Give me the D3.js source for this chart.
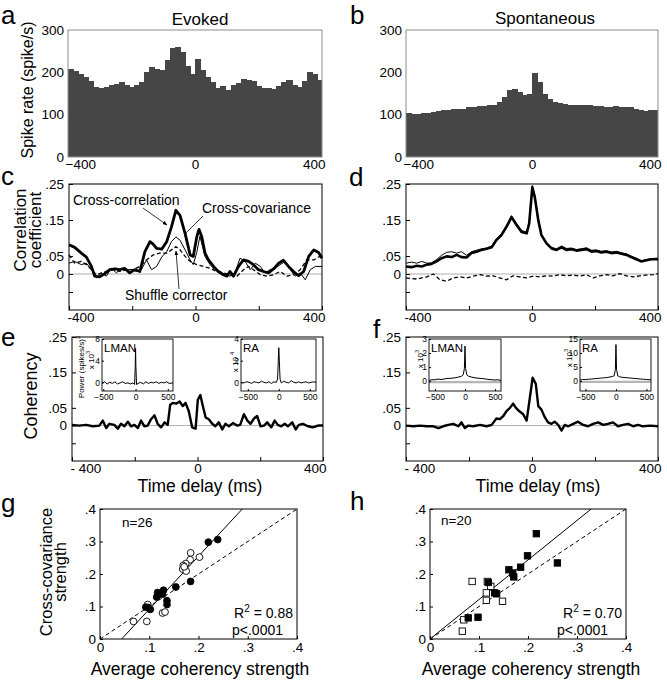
<!DOCTYPE html>
<html><head><meta charset="utf-8">
<script src="https://cdn.jsdelivr.net/npm/d3@7"></script>
<style>
body{margin:0;background:#fff}
svg{display:block}
</style>
</head><body>
<svg id="fig" width="667" height="683"></svg>
<script>
// ---------------- DATA ----------------
// a, b: spike-rate histograms, 50 bins of 16 ms from -400 to 400 ms
const histBinWidth = 16;
const histBinStarts = d3.range(-400, 400, histBinWidth);
const rateEvoked = [209,203,196,190,180,165,164,166,169,173,176,170,166,170,178,200,213,208,205,230,
  258,260,248,215,195,232,205,190,178,163,168,158,170,174,185,183,180,168,162,162,
  160,168,178,182,170,165,180,200,196,182];
const rateSpont = [103,102,101,103,105,106,108,110,112,113,114,114,117,119,120,121,122,124,130,142,
  158,160,153,147,148,199,178,150,136,130,127,125,124,123,123,122,124,120,121,119,
  118,120,119,118,119,114,110,108,110,112];

// c: evoked correlation functions [lag ms, coefficient]
const crossCorrEvoked = [[-400,0.081],[-382,0.074],[-361,0.058],[-345,0.047],[-329,0.021],[-319,-0.006],[-303,-0.008],[-287,0.001],[-271,0.012],[-255,0.014],[-239,0.012],[-224,0.016],[-208,0.003],[-192,0.012],[-176,0.007],[-160,0.062],[-144,0.090],[-134,0.083],[-123,0.071],[-107,0.069],[-91,0.090],[-76,0.131],[-62,0.177],[-49,0.163],[-33,0.113],[-17,0.053],[-7,0.049],[4,0.103],[11,0.124],[20,0.103],[30,0.058],[41,0.039],[57,0.021],[72,0.007],[88,-0.002],[99,-0.006],[109,0.007],[120,-0.006],[136,0.021],[152,0.039],[168,0.035],[183,0.026],[199,0.012],[215,0.007],[231,0.003],[247,0.014],[263,0.030],[278,0.038],[294,0.021],[310,0.007],[326,-0.005],[342,0.007],[358,0.049],[374,0.067],[389,0.060],[400,0.044]];
const crossCovEvoked = [[-400,0.030],[-382,0.035],[-361,0.026],[-345,0.030],[-329,0.012],[-313,-0.011],[-297,0.003],[-282,-0.006],[-266,0.016],[-250,0.003],[-234,0.016],[-218,0.012],[-202,0.012],[-187,0.007],[-171,0.012],[-155,0.039],[-139,0.012],[-123,0.021],[-107,0.047],[-91,0.062],[-76,0.090],[-62,0.103],[-49,0.094],[-33,0.067],[-17,0.039],[-7,0.026],[4,0.060],[14,0.105],[30,0.049],[46,0.026],[62,0.012],[78,0.007],[94,-0.002],[109,-0.006],[125,0.003],[141,0.044],[157,0.035],[173,0.012],[189,0.030],[205,0.021],[220,0.003],[236,0.012],[252,0.016],[268,0.026],[284,0.035],[300,0.012],[315,-0.006],[331,0.003],[347,-0.016],[363,0.012],[379,0.021],[400,0.021]];
const shuffleEvoked = [[-400,0.053],[-382,0.030],[-361,0.035],[-345,0.026],[-329,0.012],[-313,-0.002],[-297,0.003],[-282,0.007],[-260,0.012],[-239,0.007],[-218,0.012],[-197,0.012],[-176,0.021],[-155,0.039],[-134,0.053],[-113,0.058],[-91,0.058],[-76,0.067],[-62,0.076],[-49,0.067],[-33,0.049],[-17,0.035],[4,0.026],[25,0.021],[46,0.016],[67,0.007],[88,0.003],[109,-0.002],[131,-0.006],[152,0.012],[168,0.021],[183,0.012],[205,-0.002],[226,-0.006],[247,-0.002],[268,0.007],[289,-0.006],[310,-0.002],[331,0.012],[352,0.039],[374,0.039],[400,0.053]];

// d: spontaneous correlation functions
const dLags = [-400,-382,-366,-350,-334,-319,-303,-287,-271,-255,-239,-224,-208,-192,-176,-160,-144,-128,-113,-97,-81,-65,-49,-33,-17,-9,1,9,20,30,46,62,78,94,109,125,141,157,173,189,204,220,236,252,268,284,300,315,331,347,363,379,400];
const crossCorrSpont = [0.021,0.019,0.023,0.021,0.026,0.028,0.035,0.044,0.049,0.047,0.053,0.047,0.046,0.058,0.062,0.067,0.070,0.074,0.094,0.108,0.131,0.158,0.136,0.117,0.113,0.140,0.241,0.213,0.149,0.108,0.085,0.071,0.067,0.074,0.067,0.069,0.065,0.067,0.069,0.062,0.064,0.060,0.062,0.058,0.060,0.056,0.053,0.047,0.041,0.035,0.038,0.041,0.041];
const crossCovSpont = [0.030,0.033,0.030,0.035,0.030,0.031,0.040,0.052,0.060,0.062,0.058,0.062,0.052,0.062,0.066,0.070,0.072,0.078,0.098,0.112,0.135,0.162,0.140,0.121,0.116,0.143,0.246,0.218,0.152,0.110,0.088,0.074,0.070,0.078,0.071,0.072,0.068,0.070,0.073,0.066,0.067,0.063,0.065,0.061,0.063,0.059,0.056,0.050,0.044,0.037,0.040,0.043,0.044];
const shuffleSpont = [[-400,-0.011],[-366,-0.014],[-334,-0.008],[-313,0.0],[-292,-0.016],[-271,-0.020],[-250,-0.011],[-229,-0.008],[-208,-0.011],[-187,-0.006],[-165,-0.002],[-144,-0.006],[-123,-0.005],[-102,-0.011],[-81,-0.016],[-60,-0.005],[-39,-0.008],[-17,-0.011],[4,-0.006],[25,-0.008],[46,-0.005],[67,-0.006],[88,-0.002],[109,-0.005],[131,-0.003],[152,-0.006],[173,-0.002],[194,-0.011],[215,-0.005],[236,-0.002],[257,-0.005],[278,0.001],[300,-0.005],[321,-0.008],[342,-0.005],[363,-0.003],[384,-0.002],[400,0.001]];

// e, f: coherency [lag ms, value]
const coherEvoked = [[-400,0.002],[-377,0],[-355,0.002],[-334,-0.002],[-313,0],[-302,0.014],[-291,-0.007],[-281,0.005],[-265,0.002],[-254,-0.009],[-244,0.005],[-233,-0.002],[-222,0.011],[-212,-0.002],[-201,0.002],[-190,-0.007],[-180,0.014],[-169,-0.002],[-159,0],[-148,0.018],[-137,0.029],[-127,0.005],[-116,-0.005],[-105,0.009],[-95,0.002],[-87,0.059],[-79,0.064],[-68,0.062],[-57,0.068],[-47,0.055],[-38,0.064],[-28,0.041],[-17,-0.005],[-6,-0.009],[1,0.073],[9,0.086],[17,0.055],[26,0.023],[36,0.018],[47,0.005],[57,-0.002],[68,0.009],[79,-0.011],[89,0.005],[100,-0.002],[113,0.007],[126,0],[136,0.002],[148,0.032],[159,0.014],[169,0.005],[180,0.020],[190,0.027],[201,-0.002],[212,0],[222,0.009],[235,-0.005],[246,0.014],[256,0.002],[267,-0.002],[278,0.005],[288,-0.002],[302,0.009],[313,-0.011],[323,0.002],[336,0.005],[352,-0.002],[368,-0.005],[384,0],[400,0]];
const coherSpont = [[-400,0],[-377,-0.002],[-356,0],[-334,-0.002],[-313,-0.002],[-297,-0.007],[-282,-0.002],[-266,0.002],[-250,0.005],[-234,-0.002],[-224,0.009],[-213,-0.007],[-202,0],[-187,-0.002],[-165,0.002],[-144,-0.002],[-128,0.002],[-113,0.020],[-102,0.018],[-91,0.027],[-81,0.041],[-70,0.050],[-60,0.062],[-51,0.050],[-41,0.041],[-28,0.032],[-17,0.014],[-7,0.077],[2,0.135],[12,0.118],[20,0.055],[30,0.045],[41,0.023],[51,0.009],[62,0.005],[72,0.011],[83,0.002],[94,-0.014],[104,0.002],[115,-0.002],[131,0.005],[146,0.011],[162,0.002],[178,-0.002],[194,0.005],[210,0.009],[226,0.002],[241,0.005],[257,0.009],[273,-0.002],[289,0.002],[305,0.005],[321,-0.002],[337,0.002],[352,-0.002],[374,0],[400,-0.002]];

// insets: power spectra [lag ms, power]
const powLmanEvoked = [[-520,-0.2],[-480,0.1],[-440,-0.3],[-400,0.0],[-360,-0.2],[-320,0.1],[-280,-0.3],[-240,-0.1],[-200,0.1],[-160,-0.2],[-120,-0.1],[-80,-0.3],[-40,-0.1],[-15,-0.4],[-5,3.0],[0,6.3],[5,3.0],[15,-0.4],[40,-0.2],[80,0.0],[120,-0.3],[160,0.1],[200,-0.2],[240,0.0],[280,-0.1],[320,0.1],[360,-0.2],[400,0.0],[440,-0.1],[480,0.1],[520,-0.2],[580,-0.1]];
const powRaEvoked = [[-610,0.0],[-560,-0.05],[-520,0.05],[-480,0.0],[-440,-0.1],[-400,0.05],[-360,0.0],[-320,-0.05],[-280,0.1],[-240,0.0],[-200,-0.05],[-160,0.05],[-120,-0.1],[-80,0.05],[-40,0.0],[-20,0.3],[0,3.2],[20,0.3],[40,-0.05],[80,0.1],[120,0.0],[160,-0.05],[200,0.15],[240,0.0],[280,-0.05],[320,0.05],[360,-0.05],[400,0.0],[440,0.05],[480,-0.05],[520,0.0],[560,0.05],[600,0.0]];
const powLmanSpont = [[-600,0.05],[-550,0.1],[-500,0.1],[-450,0.15],[-400,0.12],[-350,0.15],[-300,0.2],[-250,0.2],[-200,0.22],[-150,0.25],[-100,0.3],[-60,0.35],[-30,0.45],[-10,0.9],[0,2.5],[10,0.9],[30,0.45],[60,0.35],[100,0.3],[150,0.25],[200,0.22],[250,0.2],[300,0.18],[350,0.15],[400,0.12],[450,0.1],[500,0.08],[550,0.1],[600,0.05]];
const powRaSpont = [[-590,0.3],[-550,0.5],[-500,0.5],[-450,0.6],[-400,0.7],[-350,0.8],[-300,0.9],[-250,1.0],[-200,1.1],[-150,1.2],[-100,1.4],[-60,1.6],[-30,1.8],[-10,4.0],[0,13.0],[10,4.0],[30,1.8],[60,1.5],[100,1.3],[150,1.2],[200,1.1],[250,1.0],[300,0.9],[350,0.8],[400,0.7],[450,0.6],[500,0.5],[575,0.4]];

// g, h: scatter [avg coherency strength, cross-covariance strength]
const gFilled = [[0.220,0.298],[0.239,0.306],[0.184,0.177],[0.154,0.160],[0.129,0.150],[0.117,0.143],[0.127,0.138],[0.115,0.129],[0.136,0.118],[0.136,0.106],[0.093,0.098],[0.102,0.091],[0.098,0.097]];
const gOpen = [[0.202,0.252],[0.184,0.265],[0.183,0.244],[0.174,0.232],[0.169,0.226],[0.168,0.215],[0.175,0.209],[0.171,0.222],[0.097,0.106],[0.095,0.054],[0.068,0.054],[0.127,0.080],[0.132,0.083]];
const hFilled = [[0.217,0.324],[0.199,0.256],[0.260,0.234],[0.185,0.221],[0.161,0.213],[0.169,0.203],[0.171,0.191],[0.119,0.174],[0.132,0.142],[0.136,0.139],[0.098,0.067],[0.078,0.065]];
const hOpen = [[0.086,0.177],[0.117,0.177],[0.124,0.162],[0.115,0.142],[0.115,0.119],[0.148,0.116],[0.069,0.059],[0.066,0.024]];
const gFit = {slope: 1.633, intercept: -0.0718};
const hFit = {slope: 1.216, intercept: 0.0};
const identityFit = {slope: 1, intercept: 0};

// tick values
const histYTicks = [0,100,200,300];
const lagTicks = [-400,-200,0,200,400];
const corrTicks = [-0.05,0,0.05,0.15,0.25];
const strengthTicks = [0,0.1,0.2,0.3,0.4];
const insetXTicks = [-500,0,500];

// ---------------- DRAWING ----------------
const FONT = '"Liberation Sans", Arial, Helvetica, sans-serif';
const svg = d3.select('#fig');

function txt(x, y, s, size, anchor, rot) {
  const t = svg.append('text').attr('x', x).attr('y', y).attr('font-family', FONT)
    .attr('font-size', size).attr('text-anchor', anchor || 'start').attr('fill', '#000').text(s);
  if (rot) t.attr('transform', `rotate(${rot},${x},${y})`);
  return t;
}
function txtSup(x, y, base, sup, tail, size, anchor, rot) {
  const t = svg.append('text').attr('x', x).attr('y', y).attr('font-family', FONT)
    .attr('font-size', size).attr('text-anchor', anchor || 'start').attr('fill', '#000');
  t.append('tspan').text(base);
  t.append('tspan').attr('dy', -size * 0.45).attr('font-size', size * 0.72).text(sup);
  if (tail) t.append('tspan').attr('dy', size * 0.45).text(tail);
  if (rot) t.attr('transform', `rotate(${rot},${x},${y})`);
  return t;
}
function frame(b, color, w) {
  svg.append('rect').attr('x', b.l).attr('y', b.t).attr('width', b.r - b.l).attr('height', b.b - b.t)
    .attr('fill', 'none').attr('stroke', color || '#000').attr('stroke-width', w || 1);
}
function styleAxis(g, size) {
  g.attr('font-family', FONT).attr('font-size', size);
  g.select('.domain').remove();
  g.selectAll('line').attr('stroke', '#000');
  g.selectAll('text').attr('fill', '#000');
}
const corrFmt = v => v === 0 ? '0' : (v < 0 ? '' : d3.format('.2f')(v).replace(/^0/, ''));
const strFmt = v => v === 0 ? '0' : d3.format('.1f')(v).replace(/^0/, '');

// ---- histogram panels ----
function histPanel(b, values) {
  const x = d3.scaleLinear().domain([-400, 400]).range([b.l, b.r]);
  const y = d3.scaleLinear().domain([0, 300]).range([b.b, b.t]);
  svg.append('g').attr('shape-rendering', 'crispEdges').selectAll('rect').data(values).join('rect')
    .attr('x', (d, i) => x(histBinStarts[i]))
    .attr('width', (d, i) => Math.min(x(histBinStarts[i] + histBinWidth) + 1, b.r) - x(histBinStarts[i]))
    .attr('y', d => y(d)).attr('height', d => b.b - y(d))
    .attr('fill', '#464646');
  frame(b, '#8c8c8c', 1);
  const ya = svg.append('g').attr('transform', `translate(${b.l},0)`)
    .call(d3.axisLeft(y).tickValues(histYTicks).tickSize(0).tickPadding(4).tickFormat(d3.format('d')));
  styleAxis(ya, 13.5);
  const xa = svg.append('g').attr('transform', `translate(0,${b.b})`)
    .call(d3.axisBottom(x).tickValues([-400, 0, 400]).tickSize(0).tickPadding(2).tickFormat(d3.format('d')));
  styleAxis(xa, 13.5);
  xa.selectAll('text').attr('text-anchor', d => d === -400 ? 'start' : d === 400 ? 'end' : 'middle')
    .attr('dx', d => d === -400 ? -3 : d === 400 ? 3 : 0);
}
histPanel({l: 68, r: 322, t: 30, b: 157}, rateEvoked);
histPanel({l: 406, r: 658, t: 30, b: 157}, rateSpont);

// ---- correlation/coherency panels ----
function lagPanel(b, series, spaced) {
  const x = d3.scaleLinear().domain([-400, 400]).range([b.l, b.r]);
  const y = d3.scaleLinear().domain([-0.1, 0.25]).range([b.b, b.t]);
  svg.append('line').attr('x1', b.l).attr('x2', b.r).attr('y1', y(0)).attr('y2', y(0))
    .attr('stroke', '#9a9a9a').attr('stroke-width', 0.8);
  const line = d3.line().x(d => x(d[0])).y(d => y(d[1]));
  series.forEach(s => {
    svg.append('path').datum(s.data).attr('d', line).attr('fill', 'none')
      .attr('stroke', '#000').attr('stroke-width', s.w).attr('stroke-linejoin', 'round')
      .attr('stroke-dasharray', s.dash || null);
  });
  frame(b, '#000', 1);
  const ya = svg.append('g').attr('transform', `translate(${b.l},0)`)
    .call(d3.axisLeft(y).tickValues(corrTicks).tickSizeInner(-4).tickSizeOuter(0).tickPadding(5).tickFormat(corrFmt));
  styleAxis(ya, 13.5);
  const xa = svg.append('g').attr('transform', `translate(0,${b.b})`)
    .call(d3.axisBottom(x).tickValues(lagTicks).tickSizeInner(-4).tickSizeOuter(0).tickPadding(2)
      .tickFormat(v => v === -400 ? (spaced ? '- 400' : '-400') : (v === 0 || v === 400 ? String(v) : '')));
  styleAxis(xa, 13.5);
  xa.selectAll('text').attr('text-anchor', d => d === -400 ? 'start' : d === 400 ? 'end' : 'middle')
    .attr('dx', d => d === -400 ? -2 : d === 400 ? 3 : 0);
  return {x, y};
}
lagPanel({l: 69, r: 322, t: 184, b: 310}, [
  {data: shuffleEvoked, w: 1.3, dash: '4,2.5'},
  {data: crossCovEvoked, w: 1},
  {data: crossCorrEvoked, w: 2.8}
]);
lagPanel({l: 406, r: 658, t: 184, b: 310}, [
  {data: shuffleSpont, w: 1.3, dash: '4,2.5'},
  {data: dLags.map((l, i) => [l, crossCovSpont[i]]), w: 1},
  {data: dLags.map((l, i) => [l, crossCorrSpont[i]]), w: 2.6}
]);
lagPanel({l: 72, r: 323, t: 337, b: 461}, [{data: coherEvoked, w: 2.4}], true);
lagPanel({l: 406, r: 658, t: 337, b: 461}, [{data: coherSpont, w: 2.4}], true);

// annotations in c
const defs = svg.append('defs');
defs.append('marker').attr('id', 'arr').attr('viewBox', '0 0 10 10').attr('refX', 9).attr('refY', 5)
  .attr('markerWidth', 6).attr('markerHeight', 6).attr('orient', 'auto')
  .append('path').attr('d', 'M0,1 L10,5 L0,9 z').attr('fill', '#000');
txt(73, 205, 'Cross-correlation', 14);
svg.append('line').attr('x1', 143).attr('y1', 208).attr('x2', 167).attr('y2', 225)
  .attr('stroke', '#000').attr('stroke-width', 0.8).attr('marker-end', 'url(#arr)');
txt(202, 213, 'Cross-covariance', 14);
svg.append('line').attr('x1', 203).attr('y1', 216).attr('x2', 185).attr('y2', 234)
  .attr('stroke', '#000').attr('stroke-width', 0.8);
txt(125, 300, 'Shuffle corrector', 14);
svg.append('line').attr('x1', 179).attr('y1', 289).attr('x2', 176).attr('y2', 251)
  .attr('stroke', '#000').attr('stroke-width', 0.8).attr('marker-end', 'url(#arr)');

// ---- insets ----
function inset(b, xDom, yDom, yTicks, data, name, grayBase) {
  const x = d3.scaleLinear().domain(xDom).range([b.l, b.r]);
  const y = d3.scaleLinear().domain(yDom).range([b.b, b.t]);
  svg.append('rect').attr('x', b.l).attr('y', b.t).attr('width', b.r - b.l).attr('height', b.b - b.t).attr('fill', '#fff');
  if (grayBase) {
    svg.append('line').attr('x1', b.l).attr('x2', b.r).attr('y1', y(0) + 1).attr('y2', y(0) + 1)
      .attr('stroke', '#b5b5b5').attr('stroke-width', 2.2);
  }
  svg.append('path').datum(data).attr('d', d3.line().x(d => x(d[0])).y(d => y(d[1])))
    .attr('fill', 'none').attr('stroke', '#000').attr('stroke-width', 1);
  frame(b, '#000', 0.9);
  const ya = svg.append('g').attr('transform', `translate(${b.l},0)`)
    .call(d3.axisLeft(y).tickValues(yTicks).tickSizeInner(-2).tickSizeOuter(0).tickPadding(2).tickFormat(d3.format('d')));
  styleAxis(ya, 8.5);
  const xa = svg.append('g').attr('transform', `translate(0,${b.b})`)
    .call(d3.axisBottom(x).tickValues(insetXTicks).tickSizeInner(-2).tickSizeOuter(0).tickPadding(3).tickFormat(d3.format('d')));
  styleAxis(xa, 8.5);
  txt(b.l + 2, b.t + 13, name, 11.5);
}
inset({l: 102, r: 173, t: 339, b: 391}, [-520, 580], [-1.6, 8], [0, 4, 8], powLmanEvoked, 'LMAN');
inset({l: 241, r: 316, t: 339, b: 391}, [-610, 600], [-0.8, 4], [0, 2, 4], powRaEvoked, 'RA');
inset({l: 429, r: 501, t: 339, b: 391}, [-600, 600], [-0.7, 3], [0, 1, 2, 3], powLmanSpont, 'LMAN', true);
inset({l: 580, r: 651, t: 339, b: 391}, [-590, 575], [-3.6, 15], [0, 5, 10, 15], powRaSpont, 'RA', true);
txtSup(84, 367, 'Power (spikes/s)', '2', null, 8, 'middle', -90);
txtSup(94, 360, 'x 10', '3', null, 8, 'middle', -90);
txtSup(238, 362, 'x 10 ', '4', null, 8, 'middle', -90);
txtSup(423, 359, 'x 10', '3', null, 8, 'middle', -90);
txtSup(572, 358, 'x 10', '3', null, 8, 'middle', -90);

// ---- scatter panels ----
function scatterPanel(b, filled, open, shape, fit) {
  const x = d3.scaleLinear().domain([0, 0.4]).range([b.l, b.r]);
  const y = d3.scaleLinear().domain([0, 0.4]).range([b.b, b.t]);
  const fitLine = (f, dash) => {
    const x0 = Math.max(0, -f.intercept / f.slope), x1 = Math.min(0.4, (0.4 - f.intercept) / f.slope);
    svg.append('line').attr('x1', x(x0)).attr('y1', y(f.slope * x0 + f.intercept))
      .attr('x2', x(x1)).attr('y2', y(f.slope * x1 + f.intercept))
      .attr('stroke', '#000').attr('stroke-width', 1).attr('stroke-dasharray', dash || null);
  };
  fitLine(identityFit, '4,3');
  fitLine(fit);
  const all = open.map(d => ({d, f: false})).concat(filled.map(d => ({d, f: true})));
  if (shape === 'circle') {
    svg.append('g').selectAll('circle').data(all).join('circle')
      .attr('cx', p => x(p.d[0])).attr('cy', p => y(p.d[1])).attr('r', 3.4)
      .attr('fill', p => p.f ? '#000' : '#fff').attr('stroke', '#000').attr('stroke-width', 0.9);
  } else {
    const s = 6.4;
    svg.append('g').selectAll('rect').data(all).join('rect')
      .attr('x', p => x(p.d[0]) - s / 2).attr('y', p => y(p.d[1]) - s / 2).attr('width', s).attr('height', s)
      .attr('fill', p => p.f ? '#000' : '#fff').attr('stroke', '#000').attr('stroke-width', 0.9);
  }
  frame(b, '#000', 1);
  const ya = svg.append('g').attr('transform', `translate(${b.l},0)`)
    .call(d3.axisLeft(y).tickValues(strengthTicks).tickSizeInner(-3).tickSizeOuter(0).tickPadding(4).tickFormat(strFmt));
  styleAxis(ya, 13.5);
  const xa = svg.append('g').attr('transform', `translate(0,${b.b})`)
    .call(d3.axisBottom(x).tickValues(strengthTicks).tickSizeInner(-3).tickSizeOuter(0).tickPadding(3).tickFormat(strFmt));
  styleAxis(xa, 13.5);
}
scatterPanel({l: 100, r: 297, t: 509, b: 639}, gFilled, gOpen, 'circle', gFit);
scatterPanel({l: 430, r: 626, t: 509, b: 639}, hFilled, hOpen, 'square', hFit);
txt(122, 527, 'n=26', 13.5);
txtSup(293, 618, 'R', '2', ' = 0.88', 14, 'end');
txt(232, 635, 'p<.0001', 14);
txt(441, 525, 'n=20', 13.5);
txtSup(622, 618, 'R', '2', ' = 0.70', 14, 'end');
txt(557, 635, 'p<.0001', 14);

// ---- titles, axis labels, panel letters ----
txt(200, 25, 'Evoked', 17, 'middle');
txt(545, 24, 'Spontaneous', 17, 'middle');
txt(33, 90, 'Spike rate (spike/s)', 16, 'middle', -90);
txt(26, 230, 'Correlation', 17, 'middle', -90);
txt(41, 230, 'coefficient', 17, 'middle', -90);
txt(37, 396, 'Coherency', 18, 'middle', -90);
txt(200, 492, 'Time delay (ms)', 17.5, 'middle');
txt(538, 492, 'Time delay (ms)', 17.5, 'middle');
txt(52, 572, 'Cross-covariance', 16.5, 'middle', -90);
txt(66, 572, 'strength', 16.5, 'middle', -90);
txt(200, 675, 'Average coherency strength', 17.5, 'middle');
txt(531, 675, 'Average coherency strength', 17.5, 'middle');
[['a', 1, 24], ['b', 350, 24], ['c', 1, 185], ['d', 349, 186], ['e', 1, 346], ['f', 373, 338], ['g', 1, 512], ['h', 350, 510]]
  .forEach(([l, x, y]) => txt(x, y, l, 26));
</script>
</body></html>
